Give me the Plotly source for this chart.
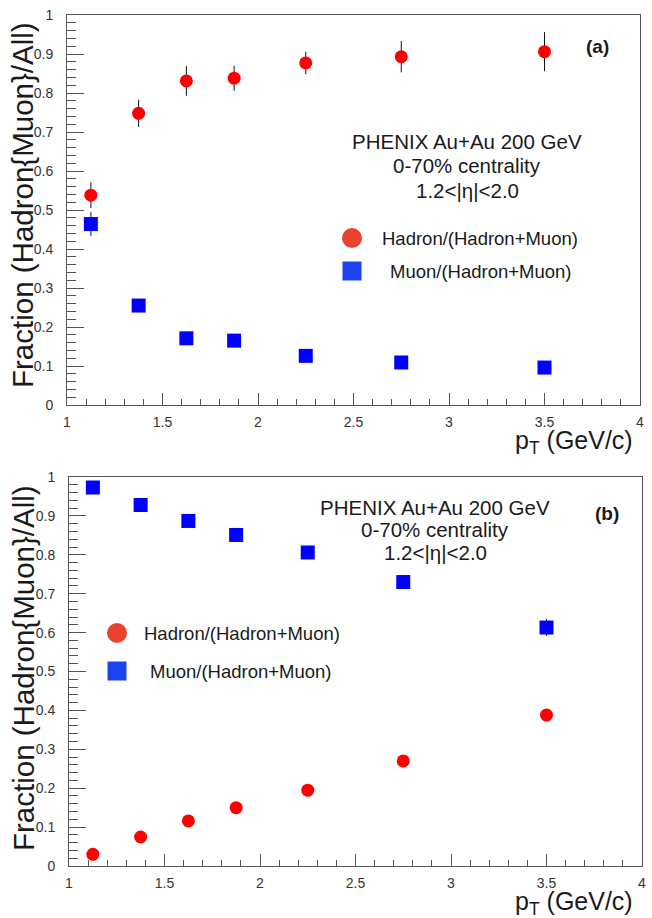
import plotly.graph_objects as go

W, H = 652, 918

# ---- data ----
pt = [1.125, 1.375, 1.625, 1.875, 2.25, 2.75, 3.5]

a_hadron = [0.538, 0.748, 0.831, 0.838, 0.877, 0.893, 0.906]
a_hadron_err = [0.033, 0.035, 0.038, 0.032, 0.029, 0.040, 0.050]
a_muon = [0.464, 0.255, 0.171, 0.165, 0.126, 0.109, 0.096]
a_muon_err = [0.031, 0.010, 0.008, 0.008, 0.006, 0.006, 0.006]

b_hadron = [0.030, 0.0745, 0.116, 0.150, 0.195, 0.270, 0.388]
b_hadron_err = [0.004, 0.005, 0.006, 0.007, 0.008, 0.010, 0.015]
b_muon = [0.973, 0.928, 0.887, 0.851, 0.806, 0.730, 0.613]
b_muon_err = [0.006, 0.007, 0.008, 0.009, 0.010, 0.012, 0.022]

info_lines = ["PHENIX Au+Au 200 GeV", "0-70% centrality", "1.2<|η|<2.0"]
legend_labels = ["Hadron/(Hadron+Muon)", "Muon/(Hadron+Muon)"]
panel_labels = ["(a)", "(b)"]
x_title = "p<sub>T</sub> (GeV/c)"
y_title = "Fraction (Hadron{Muon}/All)"


def px(x):
    return x / W


def py(y):
    return 1 - y / H


FONT = "Liberation Sans, Arial, Helvetica, sans-serif"
RED = "#ff0000"
BLUE = "#0000ff"
LEG_RED = "#e8432d"
LEG_BLUE = "#1c43f0"
AXC = "#555555"

fig = go.Figure()

panels = [
    dict(xa="x", ya="y", had=a_hadron, hade=a_hadron_err, mu=a_muon, mue=a_muon_err),
    dict(xa="x2", ya="y2", had=b_hadron, hade=b_hadron_err, mu=b_muon, mue=b_muon_err),
]
for p in panels:
    fig.add_trace(go.Scatter(
        x=pt, y=p["mu"], xaxis=p["xa"], yaxis=p["ya"], mode="markers",
        marker=dict(symbol="square", size=14, color=BLUE),
        error_y=dict(type="data", array=p["mue"], color="#111111", thickness=1, width=0),
        showlegend=False))
    fig.add_trace(go.Scatter(
        x=pt, y=p["had"], xaxis=p["xa"], yaxis=p["ya"], mode="markers",
        marker=dict(symbol="circle", size=13, color=RED),
        error_y=dict(type="data", array=p["hade"], color="#111111", thickness=1, width=0),
        showlegend=False))

xax = dict(range=[1, 4], dtick=0.5, tick0=1, ticks="inside", ticklen=12, tickwidth=1,
           tickcolor=AXC, showline=True, linecolor=AXC, linewidth=1, mirror=True,
           showgrid=False, zeroline=False, automargin=False, ticklabelstandoff=4,
           tickfont=dict(family=FONT, size=14, color="#333333"),
           minor=dict(dtick=0.1, tick0=1, ticks="inside", ticklen=6, tickcolor=AXC, showgrid=False))
yax = dict(range=[0, 1], dtick=0.1, tick0=0, ticks="inside", ticklen=17, tickwidth=1,
           tickcolor=AXC, showline=True, linecolor=AXC, linewidth=1, mirror=True,
           showgrid=False, zeroline=False, automargin=False, ticklabelstandoff=10,
           tickfont=dict(family=FONT, size=14, color="#333333"),
           minor=dict(dtick=0.02, tick0=0, ticks="inside", ticklen=9, tickcolor=AXC, showgrid=False))

fig.update_layout(
    width=W, height=H, margin=dict(l=0, r=0, t=0, b=0, autoexpand=False),
    paper_bgcolor="white", plot_bgcolor="white",
    xaxis=dict(xax, domain=[px(67), px(640)], anchor="y"),
    yaxis=dict(yax, domain=[py(405), py(15)], anchor="x"),
    xaxis2=dict(xax, domain=[px(69), px(642)], anchor="y2"),
    yaxis2=dict(yax, domain=[py(866), py(477)], anchor="x2"),
)

ann = []
shapes = []


def text(x, y, s, size, xanchor="center", bold=False, angle=0, color="#1a1a1a"):
    ann.append(dict(x=px(x), y=py(y), xref="paper", yref="paper", text=("<b>%s</b>" % s) if bold else s,
                    showarrow=False, xanchor=xanchor, yanchor="middle", textangle=angle,
                    font=dict(family=FONT, size=size, color=color)))


# panel (a)
for i, s in enumerate(info_lines):
    text(467, 141 + 24.5 * i, s, 20.5)
text(597, 47, panel_labels[0], 19, bold=True)
text(380, 238, legend_labels[0], 18.5, xanchor="left")
text(388, 271, legend_labels[1], 18.5, xanchor="left")
text(635, 442, x_title, 25, xanchor="right")
text(23, 205, y_title, 29.5, angle=-90)

# panel (b)
for i, s in enumerate(info_lines):
    text(435, 507 + 22.5 * i, s, 20.5)
text(607, 513, panel_labels[1], 19, bold=True)
text(142, 633, legend_labels[0], 18.5, xanchor="left")
text(148, 671, legend_labels[1], 18.5, xanchor="left")
text(635, 903, x_title, 25, xanchor="right")
text(23, 668, y_title, 29.5, angle=-90)

# legend symbols
for (cx, cy) in [(352, 238), (117, 633)]:
    shapes.append(dict(type="circle", xref="paper", yref="paper",
                       x0=px(cx - 10), x1=px(cx + 10), y0=py(cy + 10), y1=py(cy - 10),
                       fillcolor=LEG_RED, line=dict(width=0)))
for (cx, cy) in [(352, 271), (117, 671)]:
    shapes.append(dict(type="rect", xref="paper", yref="paper",
                       x0=px(cx - 9.5), x1=px(cx + 9.5), y0=py(cy + 9.5), y1=py(cy - 9.5),
                       fillcolor=LEG_BLUE, line=dict(width=0)))

fig.update_layout(annotations=ann, shapes=shapes)
fig.write_html("out.html", config={"displayModeBar": False},
               post_script="document.body.style.margin='0';document.body.style.overflow='hidden';")
